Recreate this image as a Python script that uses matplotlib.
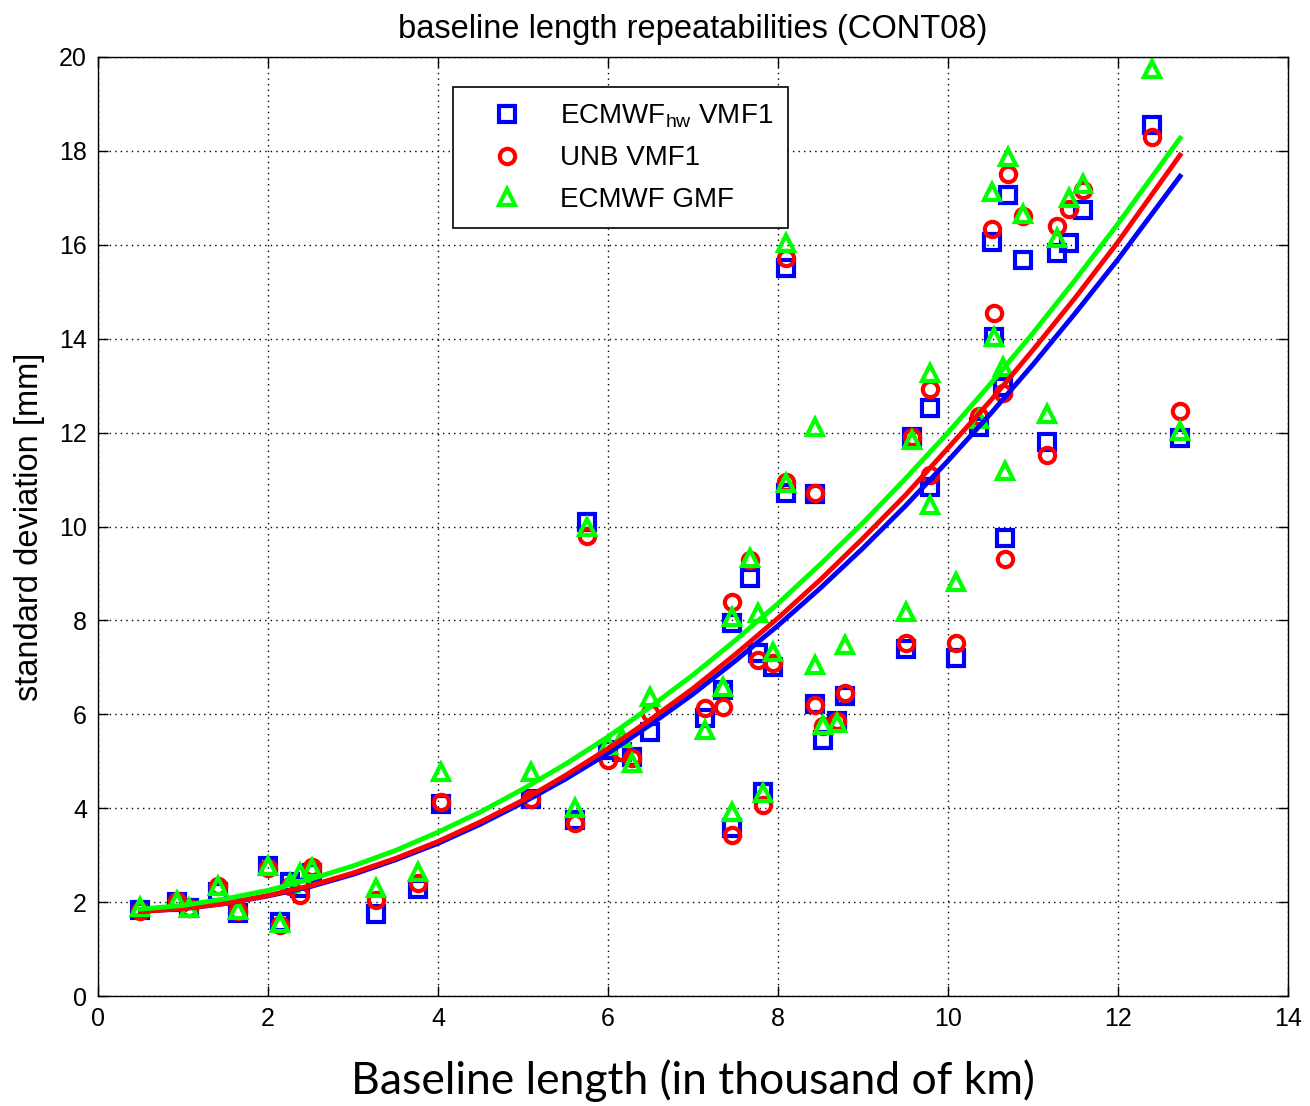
import matplotlib.pyplot as plt

# baseline length in thousand km, one entry per baseline
baseline = [0.49, 0.93, 1.07, 1.41, 1.65, 2.00, 2.14, 2.26, 2.38, 2.52,
            3.27, 3.76, 4.04, 5.10, 5.61, 5.75, 6.00, 6.16, 6.28, 6.49,
            7.14, 7.35, 7.46, 7.46, 7.67, 7.77, 7.82, 7.94, 8.10, 8.10,
            8.43, 8.43, 8.53, 8.69, 8.79, 9.51, 9.58, 9.79, 9.79, 10.10,
            10.37, 10.52, 10.54, 10.65, 10.67, 10.71, 10.88, 11.16, 11.28, 11.42,
            11.59, 12.40, 12.73]
ecmwf_hw = [1.83, 2.00, 1.87, 2.22, 1.76, 2.76, 1.58, 2.43, 2.30, 2.62,
            1.75, 2.27, 4.10, 4.20, 3.75, 10.10, 5.25, 5.20, 5.10, 5.62,
            5.92, 6.52, 7.95, 3.58, 8.90, 7.30, 4.34, 7.00, 15.50, 10.71,
            10.70, 6.23, 5.45, 5.85, 6.40, 7.40, 11.90, 12.52, 10.84, 7.20,
            12.12, 16.07, 14.03, 12.97, 9.75, 17.06, 15.68, 11.80, 15.83, 16.03,
            16.74, 18.56, 11.88]
unb = [1.80, 2.03, 1.87, 2.35, 1.80, 2.72, 1.52, 2.35, 2.15, 2.75,
       2.05, 2.40, 4.13, 4.20, 3.68, 9.80, 5.03, 5.20, 5.07, 6.02,
       6.13, 6.16, 8.40, 3.43, 9.28, 7.15, 4.07, 7.10, 15.72, 10.95,
       10.71, 6.20, 5.75, 5.85, 6.45, 7.52, 11.91, 12.93, 11.10, 7.52,
       12.35, 16.33, 14.55, 12.85, 9.31, 17.50, 16.62, 11.52, 16.40, 16.77,
       17.17, 18.30, 12.45]
ecmwf_gmf = [1.90, 2.02, 1.88, 2.35, 1.83, 2.76, 1.55, 2.40, 2.62, 2.73,
             2.30, 2.65, 4.77, 4.77, 4.00, 10.00, 5.35, 5.50, 4.96, 6.37,
             5.67, 6.58, 8.08, 3.92, 9.33, 8.15, 4.32, 7.33, 16.04, 10.93,
             12.12, 7.05, 5.77, 5.81, 7.47, 8.17, 11.85, 13.27, 10.45, 8.82,
             12.30, 17.13, 14.03, 13.40, 11.18, 17.87, 16.65, 12.40, 16.15, 17.00,
             17.30, 19.74, 12.04]

# fitted curves
fit_x = [0.5, 1.0, 1.5, 2.0, 2.5, 3.0, 3.5, 4.0, 4.5, 5.0, 5.5, 6.0, 6.5,
         7.0, 7.5, 8.0, 8.5, 9.0, 9.5, 10.0, 10.5, 11.0, 11.5, 12.0, 12.73]
fit_hw = [1.80, 1.86, 1.97, 2.13, 2.33, 2.59, 2.90, 3.25, 3.66, 4.12, 4.62, 5.17, 5.78,
          6.43, 7.14, 7.89, 8.69, 9.54, 10.44, 11.40, 12.40, 13.45, 14.55, 15.69, 17.46]
fit_unb = [1.80, 1.86, 1.97, 2.14, 2.35, 2.62, 2.93, 3.29, 3.71, 4.17, 4.70, 5.27, 5.89,
           6.55, 7.28, 8.05, 8.87, 9.75, 10.67, 11.67, 12.68, 13.76, 14.88, 16.06, 17.91]
fit_gmf = [1.85, 1.93, 2.07, 2.25, 2.49, 2.77, 3.10, 3.49, 3.92, 4.41, 4.94, 5.52, 6.16,
           6.84, 7.58, 8.36, 9.20, 10.08, 11.02, 12.00, 13.04, 14.12, 15.26, 16.45, 18.27]

BLUE, RED, GREEN = (0, 0, 1), (1, 0, 0), (0, 1, 0)
SANS = ["Liberation Sans", "DejaVu Sans"]

plt.rcParams["font.family"] = SANS

fig = plt.figure(figsize=(13.1, 11.06), dpi=100)
ax = fig.add_axes([98 / 1310, 110 / 1106, 1190 / 1310, 939 / 1106])

mk = dict(linestyle="none", markersize=11, markeredgewidth=3, markerfacecolor="none")
ax.plot(baseline, ecmwf_hw, marker="s", color=BLUE, label=r"ECMWF$_{\mathregular{hw}}$ VMF1", **mk)
ax.plot(baseline, unb, marker="o", color=RED, label="UNB VMF1", **mk)
ax.plot(baseline, ecmwf_gmf, marker="^", color=GREEN, label="ECMWF GMF", **mk)

ax.plot(fit_x, fit_hw, color=BLUE, linewidth=3.5)
ax.plot(fit_x, fit_unb, color=RED, linewidth=3.5)
ax.plot(fit_x, fit_gmf, color=GREEN, linewidth=3.5)

ax.set_xlim(0, 14)
ax.set_ylim(0, 20)
ax.set_xticks(range(0, 15, 2))
ax.set_yticks(range(0, 21, 2))
ax.grid(True, color="black", linestyle=(0, (1, 3)), linewidth=1)
ax.tick_params(direction="in", top=True, right=True, length=7, width=1, labelsize=18, pad=8)
for spine in ax.spines.values():
    spine.set_linewidth(1)

ax.set_title("baseline length repeatabilities (CONT08)", fontsize=23.5, pad=14)
ax.set_ylabel("standard deviation [mm]", fontsize=23.5, labelpad=10)
ax.set_xlabel("Baseline length (in thousand of km)", fontsize=32, family=["Lato", "DejaVu Sans"], labelpad=20)

leg = ax.legend(loc="upper left", bbox_to_anchor=(0.298, 0.968), fontsize=20, frameon=True,
                fancybox=False, framealpha=1, edgecolor="black", handlelength=2.85,
                handletextpad=0.46, borderpad=0.55, labelspacing=0.55, borderaxespad=0)
leg.get_frame().set_linewidth(1.2)

fig.savefig("out.png", dpi=100)
